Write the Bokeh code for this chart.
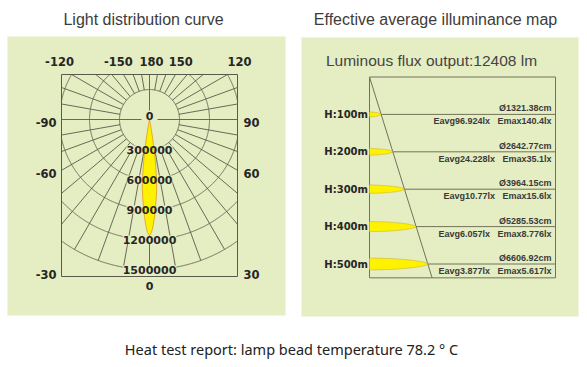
import numpy as np
from bokeh.plotting import figure
from bokeh.models import Range1d
from bokeh.core.properties import value
from bokeh.embed import file_html
from bokeh.resources import INLINE

# ---------------- data ----------------
left_title = "Light distribution curve"
right_title = "Effective average illuminance map"
footer_text = "Heat test report: lamp bead temperature 78.2 ° C"
flux_lm = 12408

ring_values = [300000, 600000, 900000, 1200000, 1500000]
grid_step_deg = 10
top_angles = [-120, -150, 180, 150, 120]
side_angles = [-90, -60, -30, 90, 60, 30]
bottom_angle = 0

beam_deg = [-12, -11, -10, -9, -8, -7, -6, -5, -4, -3, -2, -1, 0,
            1, 2, 3, 4, 5, 6, 7, 8, 9, 10, 11, 12]
beam_cd = [0, 40000, 120000, 260000, 410000, 560000, 690000, 780000, 870000,
           970000, 1060000, 1130000, 1160000,
           1130000, 1060000, 970000, 870000, 780000, 690000, 560000, 410000,
           260000, 120000, 40000, 0]

heights_m = [100, 200, 300, 400, 500]
diameters_cm = [1321.38, 2642.77, 3964.15, 5285.53, 6606.92]
eavg_lx = [96.924, 24.228, 10.77, 6.057, 3.877]
emax_lx = [140.4, 35.1, 15.6, 8.776, 5.617]

# ---------------- layout / style ----------------
PANEL = "#E5EDC2"
GRID = "#5A5A4C"
YELLOW = "#FFF200"
TXT = "#262626"

p = figure(width=579, height=359, x_range=Range1d(0, 579), y_range=Range1d(359, 0),
           output_backend="svg", toolbar_location=None, min_border=0)
p.axis.visible = False
p.grid.visible = False
p.outline_line_color = None
p.background_fill_color = "white"
p.border_fill_color = "white"

# panels
p.quad(left=[7, 301], right=[285, 578], top=[36, 37], bottom=[315, 316],
       fill_color=PANEL, line_color=None)

# titles
p.text(x=[143, 435], y=[19, 19], text=[left_title, right_title],
       text_font=value("Liberation Sans"), text_font_size="16px",
       text_color="#3c3c3c", text_align="center", text_baseline="middle")
p.text(x=[291], y=[348], text=[footer_text], text_font=value("Noto Sans"),
       text_font_size="14.5px", text_color="#222222", text_align="center",
       text_baseline="middle")

# ---------------- left: polar light distribution ----------------
CX, CY = 149.0, 119.0
PX_PER_CD = 30.0 / 300000.0
BL, BR, BT, BB = 61.0, 237.0, 74.0, 276.0
RMAX = ring_values[-1] * PX_PER_CD
R0 = ring_values[0] * PX_PER_CD

def box_dist(th):
    sx, sy = np.sin(th), np.cos(th)
    ts = []
    if sx > 1e-9: ts.append((BR - CX) / sx)
    if sx < -1e-9: ts.append((BL - CX) / sx)
    if sy > 1e-9: ts.append((BB - CY) / sy)
    if sy < -1e-9: ts.append((BT - CY) / sy)
    return min(ts)

# box
p.quad(left=[BL], right=[BR], top=[BT], bottom=[BB], fill_color=None,
       line_color=GRID, line_width=1)

# rings (clipped to box)
th = np.linspace(0, 2 * np.pi, 2881)
for v in ring_values:
    r = v * PX_PER_CD
    xs = CX + r * np.sin(th)
    ys = CY + r * np.cos(th)
    bad = (xs < BL - 0.2) | (xs > BR + 0.2) | (ys < BT - 0.2) | (ys > BB + 0.2)
    xs = np.where(bad, np.nan, xs)
    ys = np.where(bad, np.nan, ys)
    p.line(xs, ys, line_color=GRID, line_width=0.9)

# radial lines
x0s, y0s, x1s, y1s = [], [], [], []
for a in range(0, 360, grid_step_deg):
    t = np.radians(a)
    if a in (90, 270):
        r0 = 8.0
    elif a == 180:
        r0 = 9.0
    elif a == 0:
        r0 = 0.0
    else:
        r0 = R0
    r1 = min(box_dist(t), RMAX)
    x0s.append(CX + r0 * np.sin(t)); y0s.append(CY + r0 * np.cos(t))
    x1s.append(CX + r1 * np.sin(t)); y1s.append(CY + r1 * np.cos(t))
p.segment(x0s, y0s, x1s, y1s, line_color=GRID, line_width=0.9)

# ring label backgrounds (hide grid under labels)
ring_y = [CY + v * PX_PER_CD for v in ring_values]
ring_txt = [str(v) for v in ring_values]
p.text(x=[CX] * len(ring_values), y=ring_y, text=ring_txt,
       text_font=value("DejaVu Sans"), text_font_style="bold", text_font_size="11px",
       text_alpha=0, background_fill_color=PANEL, text_align="center",
       text_baseline="middle")

# beam
bt = np.radians(beam_deg)
br = np.array(beam_cd) * PX_PER_CD
p.patch(CX + br * np.sin(bt), CY + br * np.cos(bt), fill_color=YELLOW,
        line_color="#E09A20", line_width=0.8)

# ring labels
p.text(x=[CX] * len(ring_values) + [CX], y=ring_y + [CY - 4], text=ring_txt + ["0"],
       text_font=value("DejaVu Sans"), text_font_style="bold", text_font_size="11px",
       text_color=TXT, text_align="center", text_baseline="middle")

# angle labels
tx, ty = [], []
for a in top_angles:
    phi = np.radians(180 - abs(a))
    off = min(1.2 * (CY - BT) * np.tan(phi), 90.0)
    tx.append(CX + np.sign(a) * off + (2 if a == 180 else 0))
    ty.append(BT - 13)
p.text(x=tx, y=ty, text=[str(a) for a in top_angles], text_font=value("DejaVu Sans"),
       text_font_style="bold", text_font_size="11.5px", text_color=TXT,
       text_align="center", text_baseline="middle")
for side, align, xx in ((-1, "right", BL - 5), (1, "left", BR + 6)):
    angs = [a for a in side_angles if np.sign(a) == side]
    ys = []
    for a in angs:
        t = np.radians(abs(a))
        yy = CY + (BR - CX) * np.cos(t) / np.sin(t)
        ys.append(min(yy, BB - 4) + 3)
    p.text(x=[xx] * len(angs), y=ys, text=[str(a) for a in angs],
           text_font=value("DejaVu Sans"), text_font_style="bold", text_font_size="11.5px",
           text_color=TXT, text_align=align, text_baseline="middle")
p.text(x=[CX], y=[BB + 9], text=[str(bottom_angle)], text_font=value("DejaVu Sans"),
       text_font_style="bold", text_font_size="11px", text_color=TXT,
       text_align="center", text_baseline="middle")

# ---------------- right: illuminance map ----------------
RX0, RX1 = 369.0, 555.0
RY0 = 76.5
Y_PER_M = 0.374
X_PER_CM = 0.008824
H_BOTTOM = 537.0
RGRID = "#72725A"
RB = RY0 + H_BOTTOM * Y_PER_M

p.text(x=[431], y=[60], text=["Luminous flux output:%d lm" % flux_lm],
       text_font=value("Liberation Sans"), text_font_size="15.5px", text_color="#444444",
       text_align="center", text_baseline="middle")

p.quad(left=[RX0], right=[RX1], top=[RY0], bottom=[RB], fill_color=None,
       line_color=RGRID, line_width=1)
ly = [RY0 + h * Y_PER_M for h in heights_m]
p.segment([RX0] * len(ly), ly, [RX1] * len(ly), ly, line_color=RGRID, line_width=1)
d_per_m = diameters_cm[-1] / heights_m[-1]
p.segment([RX0], [RY0], [RX0 + H_BOTTOM * d_per_m * X_PER_CM], [RB],
          line_color=RGRID, line_width=1)

f = np.linspace(0, 1, 80)
for h, d, y in zip(heights_m, diameters_cm, ly):
    L = d * X_PER_CM
    T = 1.5 + 0.0087 * h
    t = T * np.clip(1 - f ** 2, 0, None) ** 0.6
    xs = np.concatenate([RX0 + f * L, (RX0 + f * L)[::-1]])
    ys = np.concatenate([y - t, (y + t)[::-1]])
    p.patch(xs, ys, fill_color=YELLOW, line_color="#C8B030", line_width=0.6)

p.text(x=[RX0 - 1.5] * len(ly), y=ly, text=["H:%dm" % h for h in heights_m],
       text_font=value("DejaVu Sans"), text_font_style="bold", text_font_size="10px",
       text_color=TXT, text_align="right", text_baseline="middle")
p.text(x=[551] * len(ly), y=[y - 6 for y in ly], text=["Ø%scm" % d for d in diameters_cm],
       text_font=value("Liberation Sans"), text_font_style="bold", text_font_size="9px",
       text_color="#3a3a3a", text_align="right", text_baseline="middle")
p.text(x=[551] * len(ly), y=[y + 7 for y in ly],
       text=["Eavg%slx\u00a0\u00a0\u00a0Emax%slx" % (a, m) for a, m in zip(eavg_lx, emax_lx)],
       text_font=value("Liberation Sans"), text_font_style="bold", text_font_size="9px",
       text_color="#3a3a3a", text_align="right", text_baseline="middle")

open("out.html", "w").write(file_html(p, INLINE))
